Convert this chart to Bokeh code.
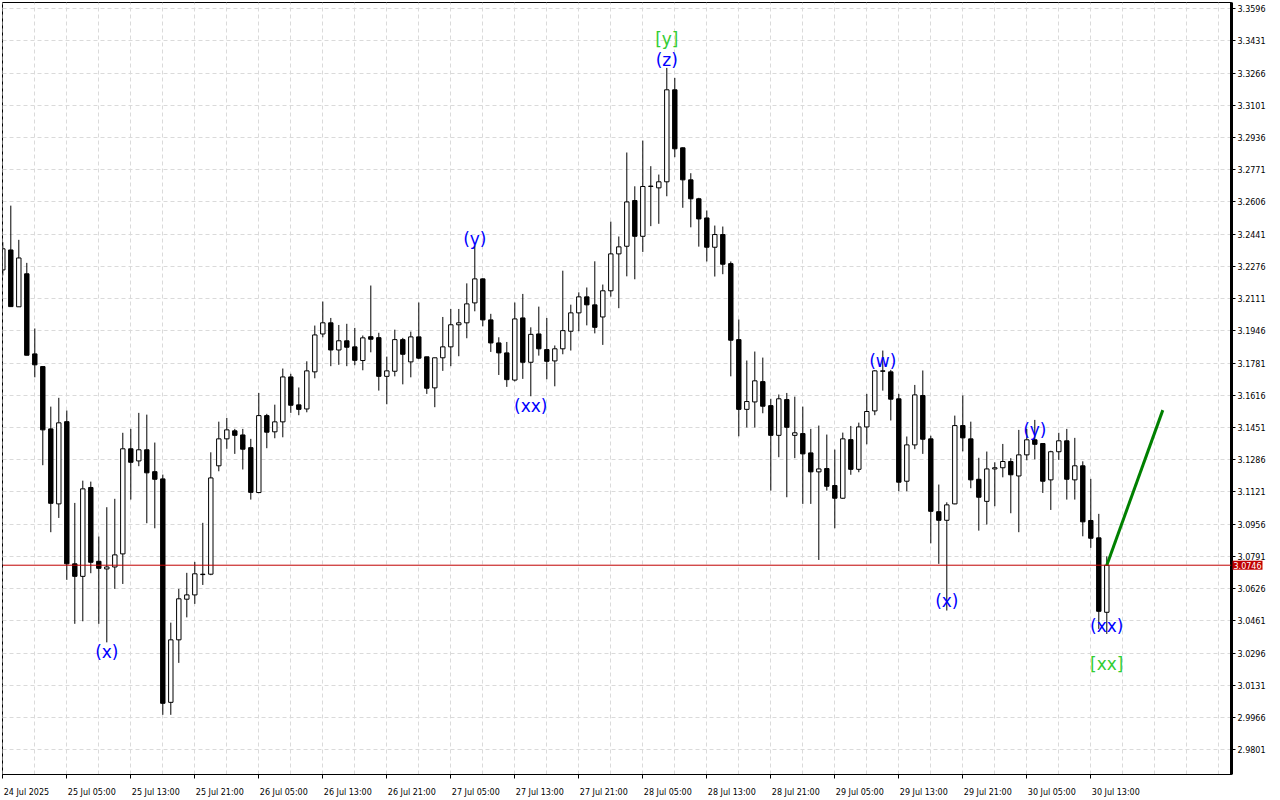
from bokeh.plotting import figure
from bokeh.models import ColumnDataSource, FixedTicker, Label, Span, LinearAxis
from bokeh.embed import file_html
from bokeh.resources import INLINE
from bokeh.core.properties import value

# ---- hourly candles (bar index 0 = 24 Jul 2025 21:00) ----
opens = [3.2258, 3.2360, 3.2069, 3.2238, 3.1828, 3.1763, 3.1444, 3.1060, 3.1481, 3.0753,
         3.0689, 3.1144, 3.0766, 3.0727, 3.0737, 3.0804, 3.1342, 3.1280, 3.1337, 3.1225,
         3.1188, 3.0044, 3.0364, 3.0572, 3.0594, 3.0700, 3.0700, 3.1255, 3.1393, 3.1434,
         3.1413, 3.1348, 3.1118, 3.1512, 3.1429, 3.1480, 3.1710, 3.1567, 3.1546, 3.1736,
         3.1930, 3.1987, 3.1848, 3.1895, 3.1864, 3.1794, 3.1916, 3.1911, 3.1713, 3.1739,
         3.1901, 3.1787, 3.1915, 3.1813, 3.1654, 3.1808, 3.1864, 3.1977, 3.1987, 3.2089,
         3.2212, 3.2002, 3.1884, 3.1833, 3.1694, 3.2012, 3.1785, 3.1930, 3.1850, 3.1792,
         3.1854, 3.1944, 3.2038, 3.2120, 3.2079, 3.2017, 3.2151, 3.2340, 3.2379, 3.2613,
         3.2430, 3.2685, 3.2678, 3.2709, 3.3180, 3.2883, 3.2719, 3.2622, 3.2524, 3.2374,
         3.2439, 3.2290, 3.1901, 3.1544, 3.1582, 3.1686, 3.1563, 3.1411, 3.1594, 3.1411,
         3.1420, 3.1321, 3.1224, 3.1241, 3.1154, 3.1089, 3.1389, 3.1237, 3.1454, 3.1536,
         3.1741, 3.1736, 3.1598, 3.1176, 3.1362, 3.1615, 3.1393, 3.1020, 3.0976, 3.1060,
         3.1461, 3.1393, 3.1186, 3.1073, 3.1239, 3.1245, 3.1277, 3.1203, 3.1311, 3.1388,
         3.1369, 3.1183, 3.1327, 3.1383, 3.1183, 3.1255, 3.0975, 3.0886, 3.0505]
highs = [3.2400, 3.2587, 3.2412, 3.2294, 3.1958, 3.1763, 3.1558, 3.1603, 3.1538, 3.1065,
         3.1179, 3.1174, 3.0893, 3.1043, 3.1086, 3.1424, 3.1444, 3.1526, 3.1517, 3.1374,
         3.1210, 3.0452, 3.0625, 3.0707, 3.0763, 3.0963, 3.1324, 3.1481, 3.1500, 3.1444,
         3.1444, 3.1393, 3.1628, 3.1521, 3.1568, 3.1753, 3.1726, 3.1656, 3.1790, 3.1973,
         3.2096, 3.2012, 3.1976, 3.1982, 3.1961, 3.1922, 3.2178, 3.1936, 3.1814, 3.1952,
         3.1910, 3.1942, 3.2091, 3.1813, 3.1808, 3.2017, 3.2058, 3.2058, 3.2189, 3.2383,
         3.2215, 3.2033, 3.1913, 3.1889, 3.2091, 3.2135, 3.1964, 3.2070, 3.2012, 3.1871,
         3.2254, 3.2080, 3.2143, 3.2168, 3.2302, 3.2183, 3.2505, 3.2429, 3.2859, 3.2686,
         3.2920, 3.2789, 3.2746, 3.3292, 3.3241, 3.2885, 3.2753, 3.2627, 3.2562, 3.2485,
         3.2480, 3.2301, 3.2004, 3.1794, 3.1840, 3.1809, 3.1598, 3.1620, 3.1628, 3.1609,
         3.1558, 3.1444, 3.1461, 3.1415, 3.1338, 3.1425, 3.1459, 3.1476, 3.1623, 3.1745,
         3.1845, 3.1746, 3.1623, 3.1405, 3.1669, 3.1743, 3.1409, 3.1159, 3.1068, 3.1512,
         3.1615, 3.1481, 3.1296, 3.1328, 3.1273, 3.1367, 3.1294, 3.1439, 3.1444, 3.1490,
         3.1370, 3.1332, 3.1424, 3.1444, 3.1398, 3.1278, 3.1188, 3.1009, 3.0792]
lows = [3.2230, 3.2070, 3.2069, 3.1821, 3.1708, 3.1258, 3.0915, 3.0988, 3.0671, 3.0446,
        3.0459, 3.0705, 3.0446, 3.0351, 3.0625, 3.0650, 3.1082, 3.1253, 3.0961, 3.0935,
        2.9980, 2.9980, 3.0246, 3.0479, 3.0548, 3.0645, 3.0695, 3.1227, 3.1342, 3.1316,
        3.1236, 3.1082, 3.1115, 3.1345, 3.1396, 3.1401, 3.1526, 3.1514, 3.1529, 3.1703,
        3.1913, 3.1765, 3.1772, 3.1765, 3.1770, 3.1744, 3.1836, 3.1640, 3.1570, 3.1713,
        3.1672, 3.1708, 3.1801, 3.1623, 3.1555, 3.1741, 3.1765, 3.1816, 3.1908, 3.2046,
        3.1969, 3.1838, 3.1720, 3.1659, 3.1687, 3.1700, 3.1611, 3.1819, 3.1698, 3.1662,
        3.1826, 3.1845, 3.1944, 3.1974, 3.1933, 3.1874, 3.2121, 3.2062, 3.2225, 3.2210,
        3.2350, 3.2482, 3.2494, 3.2635, 3.2835, 3.2576, 3.2476, 3.2377, 3.2301, 3.2224,
        3.2236, 3.1713, 3.1406, 3.1451, 3.1451, 3.1524, 3.1128, 3.1299, 3.1094, 3.1294,
        3.1060, 3.1060, 3.0773, 3.1128, 3.0935, 3.1086, 3.1209, 3.1222, 3.1365, 3.1514,
        3.1640, 3.1487, 3.1125, 3.1125, 3.1340, 3.1316, 3.0858, 3.0753, 3.0514, 3.1058,
        3.1329, 3.1140, 3.0923, 3.0954, 3.1048, 3.1196, 3.1012, 3.0915, 3.1283, 3.1288,
        3.1116, 3.1029, 3.1285, 3.1082, 3.1082, 3.0894, 3.0835, 3.0420, 3.0394]
closes = [3.2366, 3.2070, 3.2319, 3.1821, 3.1772, 3.1439, 3.1063, 3.1475, 3.0753, 3.0689,
          3.1137, 3.0761, 3.0730, 3.0737, 3.0799, 3.1342, 3.1273, 3.1337, 3.1219, 3.1186,
          3.0039, 3.0364, 3.0574, 3.0594, 3.0702, 3.0698, 3.1193, 3.1393, 3.1439, 3.1411,
          3.1340, 3.1119, 3.1512, 3.1427, 3.1480, 3.1710, 3.1565, 3.1544, 3.1741, 3.1925,
          3.1987, 3.1848, 3.1895, 3.1862, 3.1795, 3.1910, 3.1903, 3.1713, 3.1741, 3.1901,
          3.1826, 3.1915, 3.1806, 3.1652, 3.1808, 3.1864, 3.1977, 3.1987, 3.2084, 3.2212,
          3.2002, 3.1884, 3.1833, 3.1696, 3.2007, 3.1785, 3.1928, 3.1854, 3.1790, 3.1854,
          3.1947, 3.2038, 3.2120, 3.2079, 3.1964, 3.2151, 3.2340, 3.2376, 3.2606, 3.2430,
          3.2685, 3.2687, 3.2709, 3.3180, 3.2878, 3.2719, 3.2622, 3.2519, 3.2374, 3.2439,
          3.2287, 3.1898, 3.1544, 3.1584, 3.1690, 3.1560, 3.1411, 3.1598, 3.1452, 3.1424,
          3.1316, 3.1224, 3.1239, 3.1150, 3.1089, 3.1393, 3.1237, 3.1454, 3.1533, 3.1741,
          3.1739, 3.1596, 3.1171, 3.1362, 3.1618, 3.1391, 3.1022, 3.0976, 3.1055, 3.1461,
          3.1398, 3.1183, 3.1094, 3.1239, 3.1245, 3.1277, 3.1209, 3.1311, 3.1388, 3.1365,
          3.1176, 3.1327, 3.1383, 3.1186, 3.1255, 3.0968, 3.0884, 3.0510, 3.0746]

# ---- time axis labels (every 8 bars) ----
tick_bars = [0, 8, 16, 24, 32, 40, 48, 56, 64, 72, 80, 88, 96, 104, 112, 120, 128, 136]
tick_labels = ["24 Jul 2025", "25 Jul 05:00", "25 Jul 13:00", "25 Jul 21:00", "26 Jul 05:00",
               "26 Jul 13:00", "26 Jul 21:00", "27 Jul 05:00", "27 Jul 13:00", "27 Jul 21:00",
               "28 Jul 05:00", "28 Jul 13:00", "28 Jul 21:00", "29 Jul 05:00", "29 Jul 13:00",
               "29 Jul 21:00", "30 Jul 05:00", "30 Jul 13:00"]
grid_bars = list(range(0, 156, 4))

# ---- price axis labels ----
price_ticks = [3.3596, 3.3431, 3.3266, 3.3101, 3.2936, 3.2771, 3.2606, 3.2441, 3.2276, 3.2111,
               3.1946, 3.1781, 3.1616, 3.1451, 3.1286, 3.1121, 3.0956, 3.0791, 3.0626, 3.0461,
               3.0296, 3.0131, 2.9966, 2.9801]

# ---- Elliott wave marks ----
wave_bars = [13, 59, 66, 83, 83, 110, 118, 129, 138, 138]
wave_prices = [3.0304, 3.2418, 3.1563, 3.3442, 3.3335, 3.1794, 3.0565, 3.1440, 3.0437, 3.0242]
wave_texts = ["(x)", "(y)", "(xx)", "[y]", "(z)", "(w)", "(x)", "(y)", "(xx)", "[xx]"]
wave_colors = ["#0000ff", "#0000ff", "#0000ff", "#32cd32", "#0000ff", "#0000ff", "#0000ff",
               "#0000ff", "#0000ff", "#32cd32"]

# ---- projected move ----
proj_bars = [138, 145]
proj_prices = [3.0746, 3.1540]

# ---- layout ----
W, H = 1276, 800
FRAME_W, FRAME_H = 1229, 772
BAR_PX = 8.0
PRICE_PX = 1953.2          # pixels per price unit in the reference
x_start = -0.0375
x_end = x_start + FRAME_W / BAR_PX
y_end = 3.3627
y_start = y_end - FRAME_H / PRICE_PX
AXIS_FONT = "DejaVu Sans"
AXIS_SIZE = 8

# approximate DejaVu Sans advance widths (em) used to left-align time labels at their tick
EM = {ch: 0.636 for ch in "0123456789"}
EM.update({" ": 0.318, ":": 0.337, ".": 0.318, "J": 0.295, "u": 0.634, "l": 0.278})


def text_px(s, size):
    return sum(EM.get(ch, 0.6) for ch in s) * size


label_pos = [round(b + (text_px(t, AXIS_SIZE) / 2 + 1) / BAR_PX, 3)
             for b, t in zip(tick_bars, tick_labels)]

idx = list(range(len(opens)))
tops = [max(o, c) for o, c in zip(opens, closes)]
bots = [min(o, c) for o, c in zip(opens, closes)]
fills = ["white" if c >= o else "black" for o, c in zip(opens, closes)]
src = ColumnDataSource(dict(x=idx, o=opens, h=highs, l=lows, c=closes, top=tops, bot=bots, fill=fills))

p = figure(width=W, height=H, x_range=(x_start, x_end), y_range=(y_start, y_end),
           y_axis_location="right", toolbar_location=None, output_backend="svg",
           min_border_left=2, min_border_top=2,
           min_border_right=W - 2 - FRAME_W, min_border_bottom=H - 2 - FRAME_H,
           background_fill_color="white", border_fill_color="white")
p.outline_line_color = "black"
p.outline_line_width = 1

# grids
p.xgrid.ticker = FixedTicker(ticks=grid_bars)
p.ygrid.ticker = FixedTicker(ticks=price_ticks)
for g in (p.xgrid, p.ygrid):
    g.grid_line_color = "#dadada"
    g.grid_line_dash = "4 3"
    g.grid_line_width = 1

# x axis: tick marks at the bar, labels starting at the tick
xa = p.xaxis[0]
xa.ticker = FixedTicker(ticks=tick_bars)
xa.major_label_overrides = {b: "" for b in tick_bars}
xa.major_label_standoff = 0
xa.major_tick_in = 0
xa.major_tick_out = 4
xa.minor_tick_line_color = None
xa.axis_line_color = "black"
xa.major_tick_line_color = "black"

xl = LinearAxis(ticker=FixedTicker(ticks=label_pos),
                major_label_overrides={pos: t for pos, t in zip(label_pos, tick_labels)},
                axis_line_color=None, major_tick_line_color=None, minor_tick_line_color=None,
                major_tick_in=0, major_tick_out=0, major_label_standoff=0,
                major_label_text_font=AXIS_FONT, major_label_text_font_size=f"{AXIS_SIZE}px",
                major_label_text_color="black")

# y axis
ya = p.yaxis[0]
ya.ticker = FixedTicker(ticks=price_ticks)
ya.major_label_overrides = {t: f"{t:.4f}" for t in price_ticks}
ya.major_label_text_font = AXIS_FONT
ya.major_label_text_font_size = f"{AXIS_SIZE}px"
ya.major_label_text_color = "black"
ya.major_label_standoff = 2
ya.major_tick_in = 0
ya.major_tick_out = 4
ya.minor_tick_line_color = None
ya.axis_line_color = "black"
ya.axis_line_width = 3
ya.major_tick_line_color = "black"

# current price line
p.add_layout(Span(location=closes[-1], dimension="width", line_color="#c00000", line_width=1))

# candles
p.segment(x0="x", y0="l", x1="x", y1="h", source=src, line_color="black", line_width=1)
p.vbar(x="x", width=0.55, top="top", bottom="bot", source=src,
       fill_color="fill", line_color="black", line_width=1)

# projection
p.line(proj_bars, proj_prices, line_color="#008000", line_width=3)

# wave labels
wsrc = ColumnDataSource(dict(x=wave_bars, y=wave_prices, t=wave_texts, col=wave_colors))
p.text(x="x", y="y", text="t", text_color="col", source=wsrc,
       text_font=value("DejaVu Sans"), text_font_size="17px",
       text_align="center", text_baseline="middle")

# price tag on the axis (in a side panel so it is not clipped to the frame);
# the panel sits between the tick marks and the time labels, which also spaces them like the reference
tag = Label(x=x_end, y=closes[-1], x_offset=1, text=f"{closes[-1]:.4f}",
            text_color="white", text_font=AXIS_FONT, text_font_size=f"{AXIS_SIZE}px",
            text_baseline="middle", background_fill_color="#c00000", padding=1)
p.below = [xa, tag, xl]

open("out.html", "w").write(file_html(p, INLINE))
